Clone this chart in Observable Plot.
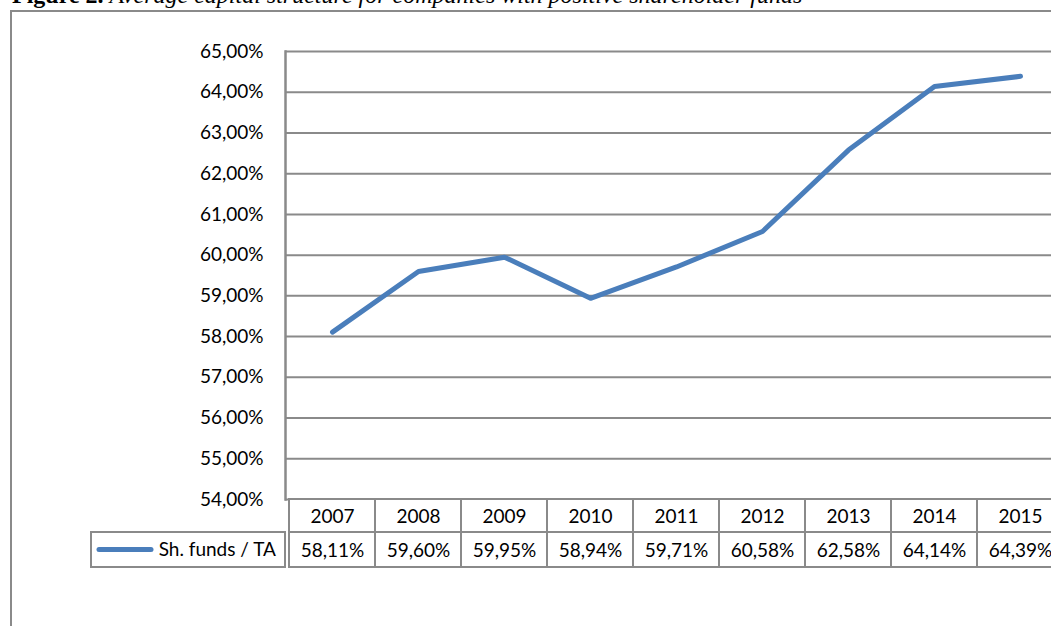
<!DOCTYPE html>
<html>
<head>
<meta charset="utf-8">
<script src="https://cdn.jsdelivr.net/npm/d3@7"></script>
<script src="https://cdn.jsdelivr.net/npm/@observablehq/plot@0.6"></script>
<style>
  html, body { margin: 0; padding: 0; background: #fff; }
  #wrap { position: relative; width: 1051px; height: 626px; overflow: hidden; background: #fff; }
  #title { position: absolute; left: 12px; top: -17px; font-family: "Liberation Serif", "Times New Roman", serif; font-size: 24px; line-height: 24px; white-space: nowrap; color: #000; }
  #title b { font-weight: bold; }
  #title i { font-style: italic; }
  #border { position: absolute; left: 10px; top: 10px; width: 1200px; height: 800px; border: 2px solid #8a8a8a; box-sizing: border-box; }
  #chart { position: absolute; left: 0; top: 0; }
</style>
</head>
<body>
<div id="wrap">
  <div id="title"><b>Figure 2.</b> <i>Average capital structure for companies with positive shareholder funds</i></div>
  <div id="border"></div>
  <div id="chart"></div>
</div>
<script>
const years = ["2007", "2008", "2009", "2010", "2011", "2012", "2013", "2014", "2015"];
const values = [58.11, 59.60, 59.95, 58.94, 59.71, 60.58, 62.58, 64.14, 64.39];
const yTicks = [54, 55, 56, 57, 58, 59, 60, 61, 62, 63, 64, 65];
const seriesName = "Sh. funds / TA";

const fmt = v => v.toFixed(2).replace(".", ",") + "%";
const data = years.map((year, i) => ({year, value: values[i]}));

const lineColor = "#4a7ebb";
const gridColor = "#8a8a8a";
const font = "Lato, 'Open Sans', sans-serif";
const fs = 19;

// y scale (same as Plot's) used to place the data table rows below the plot
const yPix = d3.scaleLinear([54, 65], [499, 51]);
const rowTop = 54;
const rowMid = yPix.invert(532);
const rowBot = yPix.invert(567);
const headerTextY = yPix.invert(516);
const valueTextY = yPix.invert(550);

const legendCell = (index, scales) => {
  const y = scales.y;
  const g = d3.create("svg:g");
  g.append("rect")
    .attr("x", 91).attr("y", y(rowMid))
    .attr("width", 285 - 91).attr("height", y(rowBot) - y(rowMid))
    .attr("fill", "none").attr("stroke", gridColor).attr("stroke-width", 2);
  const cy = (y(rowMid) + y(rowBot)) / 2;
  g.append("line")
    .attr("x1", 99).attr("x2", 151).attr("y1", cy).attr("y2", cy)
    .attr("stroke", lineColor).attr("stroke-width", 5).attr("stroke-linecap", "round");
  g.append("text")
    .attr("x", 276).attr("y", cy).attr("dy", "0.32em")
    .attr("text-anchor", "end")
    .attr("font-family", font).attr("font-size", fs).attr("fill", "#000")
    .text(seriesName);
  return g.node();
};

const chart = Plot.plot({
  width: 1051,
  height: 626,
  marginLeft: 285,
  marginRight: 0,
  marginTop: 51,
  marginBottom: 127,
  style: {fontFamily: font, fontSize: fs + "px", color: "#000", background: "transparent", overflow: "visible"},
  x: {type: "band", domain: years, range: [285, 1066], padding: 0, axis: null},
  y: {domain: [54, 65], range: [499, 51], axis: null},
  marks: [
    Plot.ruleY(yTicks, {stroke: gridColor, strokeWidth: 2}),
    Plot.frame({anchor: "left", stroke: gridColor, strokeWidth: 2.5}),
    Plot.axisY(yTicks, {tickSize: 0, tickPadding: 22, tickFormat: fmt, label: null, fontSize: fs, fill: "#000"}),
    Plot.barY(data, {x: "year", y1: rowTop, y2: rowMid, fill: "white", stroke: gridColor, strokeWidth: 2, inset: 0}),
    Plot.barY(data, {x: "year", y1: rowMid, y2: rowBot, fill: "white", stroke: gridColor, strokeWidth: 2, inset: 0}),
    Plot.text(data, {x: "year", y: headerTextY, text: "year", fontSize: fs, fill: "#000"}),
    Plot.text(data, {x: "year", y: valueTextY, text: d => fmt(d.value), fontSize: fs, fill: "#000"}),
    legendCell,
    Plot.lineY(data, {x: "year", y: "value", stroke: lineColor, strokeWidth: 5, strokeLinecap: "round", strokeLinejoin: "round"})
  ]
});
document.getElementById("chart").appendChild(chart);
</script>
</body>
</html>
